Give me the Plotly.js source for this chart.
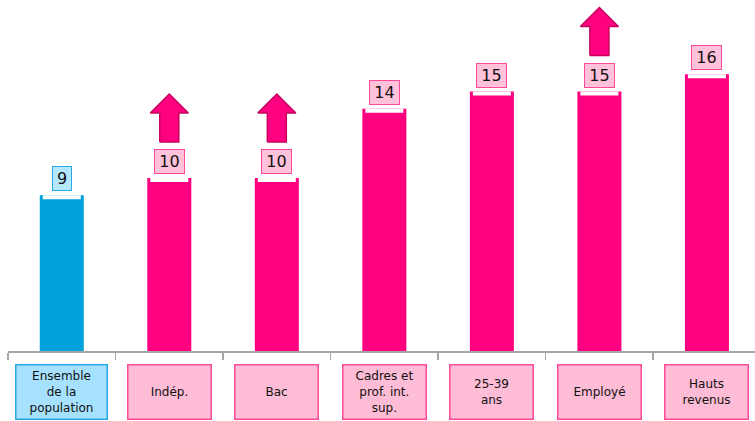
<!DOCTYPE html>
<html>
<head>
<meta charset="utf-8">
<script src="https://cdn.plot.ly/plotly-3.0.1.min.js"></script>
<style>html,body{margin:0;padding:0;background:#fff;}#chart{width:755px;height:421px;}</style>
</head>
<body>
<div id="chart"></div>
<script>
// ---- data ----
const categories = ["Ensemble<br>de la<br>population", "Indép.", "Bac", "Cadres et<br>prof. int.<br>sup.", "25-39<br>ans", "Employé", "Hauts<br>revenus"];
const values = [9, 10, 10, 14, 15, 15, 16];
const rising = [false, true, true, false, false, true, false];
const isReference = [true, false, false, false, false, false, false];

// ---- styling constants ----
const PINK = "#FF0080", BLUE = "#00A0DD";
const pxX = 107.5;   // pixels per category
const pxY = 17.3;    // pixels per unit
const idx = categories.map((_, i) => i);
const barColors = isReference.map(r => r ? BLUE : PINK);

const traces = [];
traces.push({
  type: "bar", x: idx, y: values, width: 44 / pxX,
  marker: {color: barColors, line: {width: 0}},
  hoverinfo: "skip"
});
// white notch at the top of each bar
const notchH = 4 / pxY;
traces.push({
  type: "bar", x: idx, y: values.map(() => notchH), base: values.map(v => v - notchH),
  width: 38 / pxX, marker: {color: "#ffffff", line: {width: 0}}, hoverinfo: "skip"
});
// block arrows above rising categories
idx.forEach(i => {
  if (!rising[i]) return;
  const v = values[i];
  const y0 = v + 36 / pxY, y1 = y0 + 29 / pxY, y2 = y1 + 19 / pxY;
  const hw = 19 / pxX, sw = 9.5 / pxX;
  traces.push({
    type: "scatter", mode: "lines", fill: "toself",
    x: [i - sw, i + sw, i + sw, i + hw, i, i - hw, i - sw, i - sw],
    y: [y0, y0, y1, y1, y2, y1, y1, y0],
    line: {color: "#C8005C", width: 1.5}, fillcolor: PINK, hoverinfo: "skip"
  });
});

const annotations = [];
idx.forEach(i => {
  const ref = isReference[i];
  // value label
  annotations.push({
    x: i, y: values[i], xref: "x", yref: "y", yanchor: "bottom", yshift: 4,
    text: String(values[i]), showarrow: false,
    font: {family: "DejaVu Sans", size: 16, color: "#111"},
    bgcolor: ref ? "#B4E8FF" : "#FFC2DA", bordercolor: ref ? "#2AA8E0" : "#FF4A98",
    borderwidth: 1, borderpad: 2, width: String(values[i]).length * 11 + 3
  });
  // category label box
  annotations.push({
    x: i, y: 0, xref: "x", yref: "paper", yanchor: "top", yshift: -13,
    text: categories[i], showarrow: false,
    font: {family: "DejaVu Sans", size: 12, color: "#111"},
    bgcolor: ref ? "#A6E2FF" : "#FFBCD6", bordercolor: ref ? "#2AA8E0" : "#FF4A98",
    borderwidth: 1.5, width: ref ? 88 : 80, height: 51, valign: "middle"
  });
});

const layout = {
  width: 755, height: 421,
  margin: {l: 8, r: 0, t: 0, b: 70},
  paper_bgcolor: "#fff", plot_bgcolor: "#fff",
  showlegend: false, barmode: "overlay",
  xaxis: {
    range: [-0.5, 6.447], showgrid: false, zeroline: false,
    showline: true, linecolor: "#A6A6A6", linewidth: 1.5,
    tickmode: "array", tickvals: [-0.5, 0.5, 1.5, 2.5, 3.5, 4.5, 5.5],
    ticks: "outside", ticklen: 7, tickcolor: "#A6A6A6", tickwidth: 1.5,
    showticklabels: false, fixedrange: true
  },
  yaxis: {
    range: [0, 351 / pxY], visible: false, showgrid: false, zeroline: false, fixedrange: true
  },
  annotations: annotations
};

Plotly.newPlot("chart", traces, layout, {displayModeBar: false, staticPlot: true});
</script>
</body>
</html>
